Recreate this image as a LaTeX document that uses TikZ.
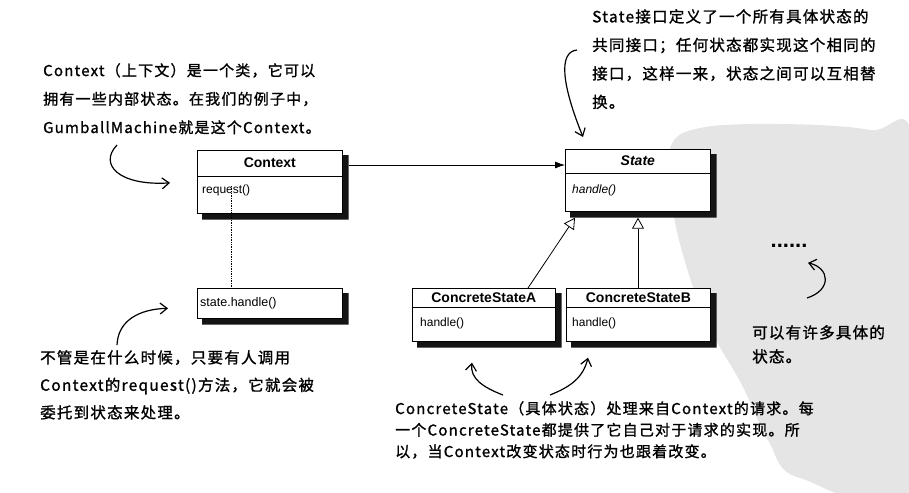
\documentclass[tikz,border=0pt]{standalone}
\usepackage{fontspec}
\setmainfont{Liberation Sans}
\newfontfamily\hw[LetterSpace=8,FakeBold=1.2]{Noto Sans CJK SC}
\usetikzlibrary{arrows.meta,calc}
\begin{document}
\begin{tikzpicture}[x=1pt,y=-1pt,
  cls/.style={draw,line width=0.7pt,fill=white,inner sep=0pt,anchor=north west},
  shad/.style={fill=black!92},
  cname/.style={font=\fontsize{14}{16}\selectfont\bfseries,inner sep=0pt},
  cop/.style={font=\fontsize{12}{14}\selectfont,inner sep=0pt,anchor=west},
  note/.style={font=\hw\fontsize{15.5}{28.5}\selectfont,align=left,inner sep=0pt,anchor=north west},
  hand/.style={line width=1.2pt,-{Straight Barb[length=7pt,width=11pt,line width=1.2pt]}},
  assoc/.style={line width=0.8pt,-{Latex[length=10pt,width=7pt]}},
  gen/.style={line width=0.8pt,-{Triangle[open,length=11pt,width=12pt,line width=0.8pt]}}]
\useasboundingbox (0,0) rectangle (909,492);
\fill[white] (0,0) rectangle (909,492);
% gray blob
\begin{scope}
\clip (0,0) rectangle (909,492);
\fill[black!10] plot[smooth cycle,tension=0.6] coordinates {(670,148) (700,128) (780,124) (870,130) (915,150) (915,480) (800,478) (768,440) (742,385) (708,325) (686,265) (672,205)};
\end{scope}
% classes
\node[cls,minimum width=145pt,minimum height=63pt] (ctx) at (197,150) {};
\draw[line width=0.7pt] ($(ctx.north west)+(0,26)$) -- ($(ctx.north east)+(0,26)$);
\node[cname] (ctxname) at ($(ctx.north)+(0,13)$) {Context};
\node[cop] (ctxop) at ($(ctx.north west)+(5,40)$) {request()};

\node[cls,minimum width=145pt,minimum height=30pt] (sh) at (197,288) {};
\node[cop,font=\fontsize{12.5}{14}\selectfont] (shop) at ($(sh.west)+(3,0)$) {state.handle()};

\node[cls,minimum width=145pt,minimum height=62pt] (st) at (565,149) {};
\draw[line width=0.7pt] ($(st.north west)+(0,24)$) -- ($(st.north east)+(0,24)$);
\node[cname,font=\fontsize{14}{16}\selectfont\bfseries\itshape] (stname) at ($(st.north)+(0,12)$) {State};
\node[cop,font=\fontsize{12}{14}\selectfont\itshape] (stop) at ($(st.north west)+(7,41)$) {handle()};

\node[cls,minimum width=143pt,minimum height=53pt] (csa) at (412,288) {};
\draw[line width=0.7pt] ($(csa.north west)+(0,19)$) -- ($(csa.north east)+(0,19)$);
\node[cname] (csaname) at ($(csa.north)+(0,10)$) {ConcreteStateA};
\node[cop] (csaop) at ($(csa.north west)+(8,35)$) {handle()};

\node[cls,minimum width=144pt,minimum height=53pt] (csb) at (566,288) {};
\draw[line width=0.7pt] ($(csb.north west)+(0,19)$) -- ($(csb.north east)+(0,19)$);
\node[cname] (csbname) at ($(csb.north)+(0,10)$) {ConcreteStateB};
\node[cop] (csbop) at ($(csb.north west)+(6,35)$) {handle()};

% shadows (right and bottom), as L-shaped filled polygons
\foreach \nm in {ctx,sh,st,csa,csb}
  \fill[shad] ($(\nm.north east)+(0.4,5)$) -- ($(\nm.north east)+(6,5)$) -- ($(\nm.south east)+(6,6)$)
     -- ($(\nm.south west)+(5,6)$) -- ($(\nm.south west)+(5,0.4)$) -- ($(\nm.south east)+(0.4,0.4)$) -- cycle;

% connectors
\draw[assoc] ($(ctx.north east)+(6,15)$) -- ($(st.north west)+(0,16)$);
\coordinate (dt) at (231,186);
\draw[densely dotted,line width=0.7pt] (dt) -- (dt |- sh.north);
\draw[gen] ($(csa.north west)+(116,0)$) -- ($(st.south west)+(10,6)$);
\draw[gen] ($(csb.north west)+(72,0)$) -- ($(st.south west)+(73,6)$);

% notes
\node[note,font=\hw\fontsize{15}{28.5}\selectfont] (n1) at (43,63) {Context（上下文）是一个类，它可以\\拥有一些内部状态。在我们的例子中，\\GumballMachine就是这个Context。};
\node[note] (n2) at (592,9) {State接口定义了一个所有具体状态的\\共同接口；任何状态都实现这个相同的\\接口，这样一来，状态之间可以互相替\\换。};
\node[note,font=\hw\fontsize{15.5}{27.5}\selectfont] (n3) at (40,350) {不管是在什么时候，只要有人调用\\Context的request()方法，它就会被\\委托到状态来处理。};
\node[note,font=\hw\fontsize{15}{21.5}\selectfont] (n4) at (395,401) {ConcreteState（具体状态）处理来自Context的请求。每\\一个ConcreteState都提供了它自己对于请求的实现。所\\以，当Context改变状态时行为也跟着改变。};
\node[note,font=\hw\fontsize{15.5}{24}\selectfont] (n5) at (752,325) {可以有许多具体的\\状态。};
\node[font=\fontsize{22}{22}\selectfont\bfseries,inner sep=0pt] (dots) at (789,246) {......};

% hand-drawn arrows
\coordinate (a1s) at (117,145);
\draw[hand] (a1s) .. controls (98,165) and (120,186) .. ($(ctx.west)+(-27,1)$);
\coordinate (a2s) at (577,50);
\draw[hand] (a2s) .. controls (558,52) and (562,85) .. ($(st.north west)+(18,-12)$);
\coordinate (a3s) at (117,345);
\draw[hand] (a3s) .. controls (118,320) and (140,309) .. ($(sh.west)+(-29,5)$);
\coordinate (a4s) at (503,395);
\draw[hand] (a4s) .. controls (482,387) and (470,378) .. ($(csa.south west)+(60,21)$);
\coordinate (a5s) at (550,395);
\draw[hand] (a5s) .. controls (570,387) and (583,378) .. ($(csb.south west)+(22,16)$);
\coordinate (a6s) at (807,298);
\draw[hand] (a6s) .. controls (832,290) and (830,268) .. ($(dots.south)+(19,15)$);
\end{tikzpicture}
\end{document}
